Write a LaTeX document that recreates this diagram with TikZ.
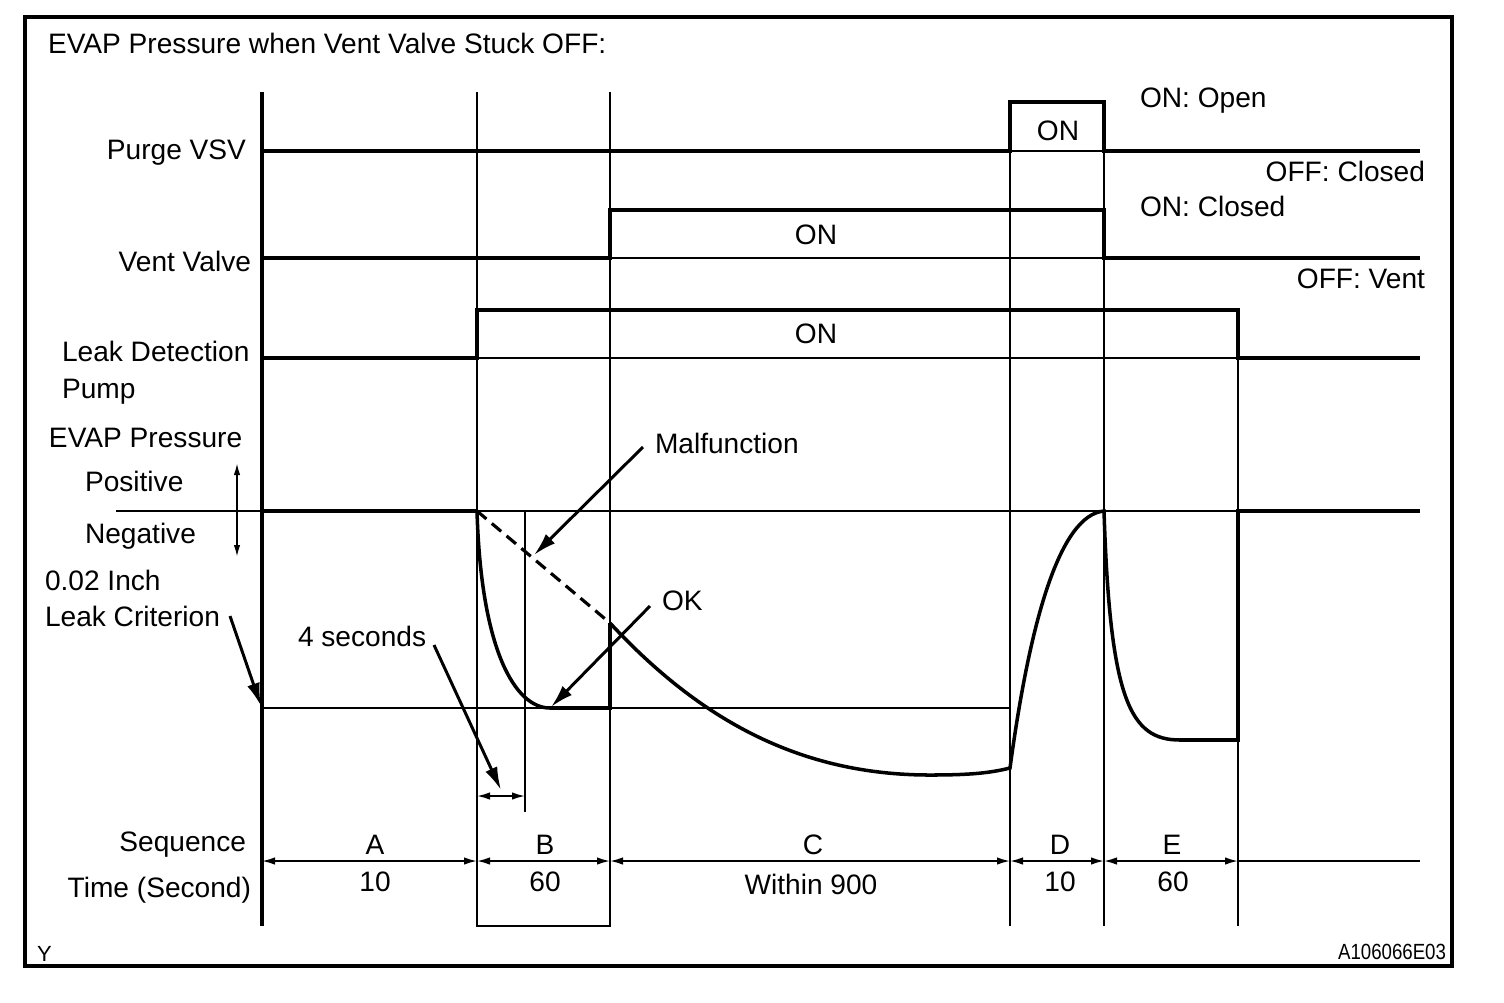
\documentclass[tikz,border=0pt]{standalone}
\usepackage{fontspec}
\setmainfont{Liberation Sans}
\usetikzlibrary{arrows.meta}
\begin{document}
\begin{tikzpicture}[x=0.02cm,y=-0.02cm,
  lab/.style={font=\fontsize{16}{19}\selectfont, inner sep=0pt, outer sep=0pt},
  small/.style={font=\fontsize{12.5}{14}\selectfont, inner sep=0pt, outer sep=0pt},
  sig/.style={line width=2.7pt, line join=miter},
  thinln/.style={line width=1pt},
  curve/.style={line width=2pt},
  seqarr/.style={line width=1pt, {Latex[length=0.26cm,width=0.15cm]}-{Latex[length=0.26cm,width=0.15cm]}},
  callout/.style={line width=1.7pt, -{Latex[length=0.46cm,width=0.26cm]}},
]
\useasboundingbox (0,0) rectangle (1504,1002);
\fill[white] (0,0) rectangle (1504,1002);
\draw[line width=1.8pt] (25,17) rectangle (1452,966);

% title
\node[lab, anchor=base west] (title) at (48,53) {EVAP Pressure when Vent Valve Stuck OFF:};

% vertical guide lines
\draw[line width=2pt] (262,92) -- (262,926);
\draw[thinln] (477,92) -- (477,926) -- (610,926) -- (610,92);
\draw[thinln] (1010,102) -- (1010,926);
\draw[thinln] (1104,102) -- (1104,926);
\draw[thinln] (1238,308) -- (1238,926);
\draw[thinln] (525,511) -- (525,812);

% Purge VSV
\node[lab, anchor=base east] (purge) at (246,159) {Purge VSV};
\draw[thinln] (1010,151) -- (1104,151);
\draw[sig] (262,151) -- (1010,151) -- (1010,102) -- (1104,102) -- (1104,151) -- (1420,151);
\node[lab, anchor=base] (purgeon) at (1058,140) {ON};
\node[lab, anchor=base west] (onopen) at (1140,107) {ON: Open};
\node[lab, anchor=base east] (offclosed) at (1425,181) {OFF: Closed};

% Vent valve
\node[lab, anchor=base east] (vent) at (251,271) {Vent Valve};
\draw[thinln] (610,258) -- (1104,258);
\draw[sig] (262,258) -- (610,258) -- (610,210) -- (1104,210) -- (1104,258) -- (1420,258);
\node[lab, anchor=base] (venton) at (816,244) {ON};
\node[lab, anchor=base west] (onclosed) at (1140,216) {ON: Closed};
\node[lab, anchor=base east] (offvent) at (1425,288) {OFF: Vent};

% Leak detection pump
\node[lab, anchor=base west] (leak1) at (62,361) {Leak Detection};
\node[lab, anchor=base west] (leak2) at (62,398) {Pump};
\draw[thinln] (477,358) -- (1238,358);
\draw[sig] (262,358) -- (477,358) -- (477,310) -- (1238,310) -- (1238,358) -- (1420,358);
\node[lab, anchor=base] (pumpon) at (816,343) {ON};

% EVAP pressure
\node[lab, anchor=base west] (evap) at (49,447) {EVAP Pressure};
\node[lab, anchor=base west] (pos) at (85,491) {Positive};
\node[lab, anchor=base west] (neg) at (85,543) {Negative};
\coordinate (pm1) at (237,463);
\coordinate (pm2) at (237,557);
\draw[line width=1pt, {Latex[length=0.24cm,width=0.13cm]}-{Latex[length=0.24cm,width=0.13cm]}] (pm1) -- (pm2);
\draw[thinln] (116,511) -- (1420,511);
\draw[sig] (262,511) -- (477,511);
\draw[thinln] (262,708) -- (1010,708);

\draw[line width=1.8pt, dash pattern=on 7pt off 4pt] (477,511) -- (610,623);
\draw[curve] (477,511) .. controls (481,650) and (515,708) .. (550,708);
\draw[sig] (550,708) -- (610,708) -- (610,623);
\draw[curve] (610,623) .. controls (700,720) and (800,775) .. (930,775)
  .. controls (970,775) and (990,773) .. (1010,768)
  .. controls (1030,620) and (1060,515) .. (1104,511)
  .. controls (1110,700) and (1130,740) .. (1180,740);
\draw[sig] (1180,740) -- (1238,740) -- (1238,511) -- (1420,511);

% labels and callouts
\node[lab, anchor=base west] (inch) at (45,590) {0.02 Inch};
\node[lab, anchor=base west] (crit) at (45,626) {Leak Criterion};
\coordinate (lc0) at (230,616);
\coordinate (lc1) at (261,706);
\draw[callout] (lc0) -- (lc1);

\node[lab, anchor=base west] (mal) at (655,453) {Malfunction};
\coordinate (mf0) at (643,447);
\coordinate (mf1) at (534,555);
\draw[callout] (mf0) -- (mf1);

\node[lab, anchor=base west] (ok) at (662,610) {OK};
\coordinate (ok0) at (650,606);
\coordinate (ok1) at (551,707);
\draw[callout] (ok0) -- (ok1);

\node[lab, anchor=base west] (four) at (298,646) {4 seconds};
\coordinate (fs0) at (434,645);
\coordinate (fs1) at (501,790);
\draw[callout] (fs0) -- (fs1);
\coordinate (fsL) at (477,796);
\coordinate (fsR) at (525,796);
\draw[seqarr] (fsL) -- (fsR);

% sequence
\node[lab, anchor=base east] (seq) at (246,851) {Sequence};
\node[lab, anchor=base east] (time) at (251,897) {Time (Second)};
\foreach \a/\b in {262/477,477/610,610/1010,1010/1104,1104/1238}
  \draw[seqarr] (\a,861) -- (\b,861);
\draw[thinln] (1238,861) -- (1420,861);
\node[lab, anchor=base] (sa) at (375,854) {A};
\node[lab, anchor=base] (sb) at (545,854) {B};
\node[lab, anchor=base] (sc) at (813,854) {C};
\node[lab, anchor=base] (sd) at (1060,854) {D};
\node[lab, anchor=base] (se) at (1172,854) {E};
\node[lab, anchor=base] (ta) at (375,891) {10};
\node[lab, anchor=base] (tb) at (545,891) {60};
\node[lab, anchor=base] (tc) at (811,894) {Within 900};
\node[lab, anchor=base] (td) at (1060,891) {10};
\node[lab, anchor=base] (te) at (1173,891) {60};

% corner marks
\node[small, anchor=base west] (ymark) at (37,961) {Y};
\node[small, anchor=base east] (code) at (1446,959) {\scalebox{0.85}[1]{A106066E03}};
\end{tikzpicture}
\end{document}
